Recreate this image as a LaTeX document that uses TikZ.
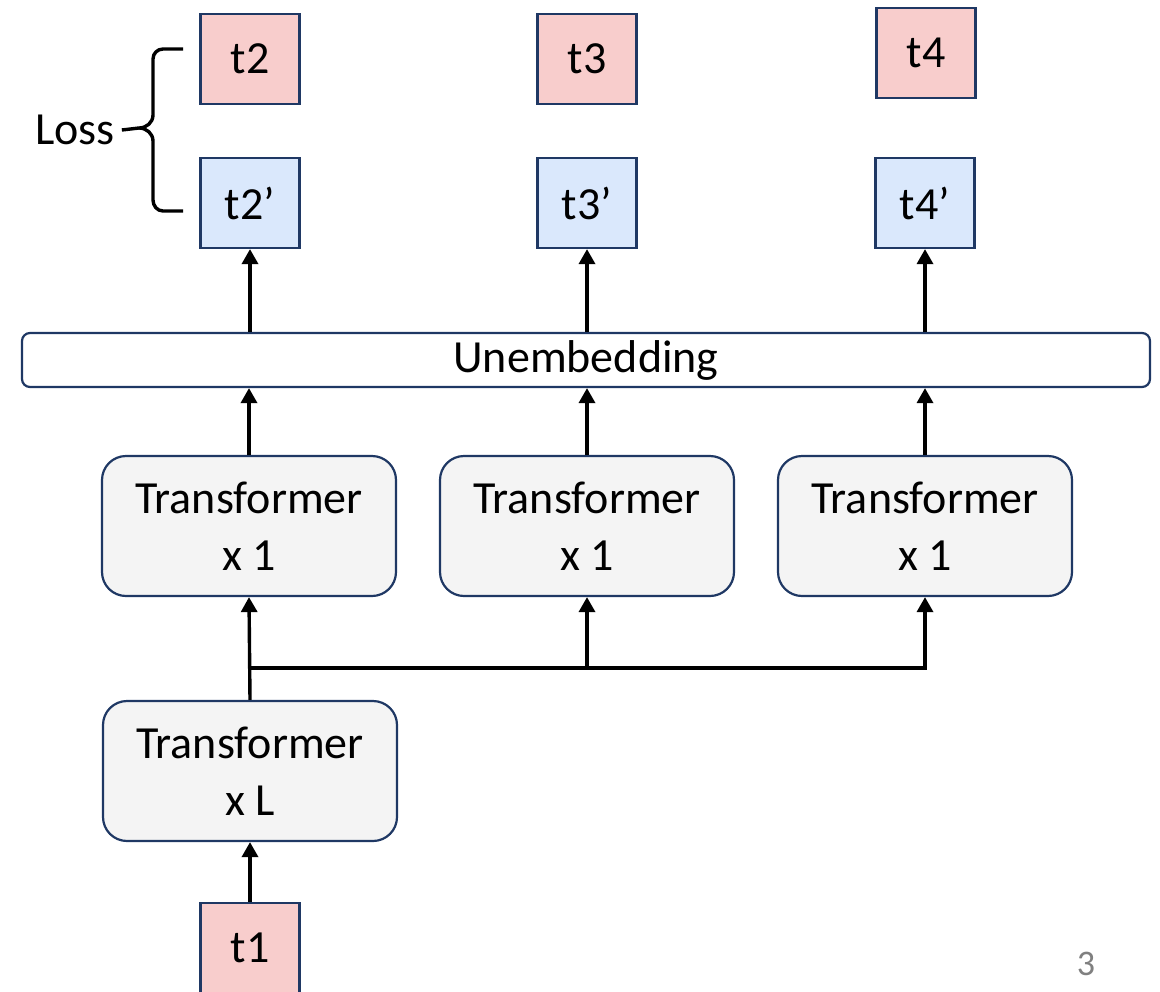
\documentclass[tikz,border=0pt]{standalone}
\usepackage{fontspec}
\setmainfont{Carlito}
\usetikzlibrary{arrows.meta, positioning, calc}
\definecolor{targetcolor}{RGB}{248,205,204}
\definecolor{predcolor}{RGB}{218,232,252}
\definecolor{blockcolor}{RGB}{244,244,244}
\definecolor{edgecolor}{RGB}{31,56,100}

\begin{document}
\begin{tikzpicture}[
    x=0.5pt, y=-0.5pt,
    token/.style={draw=edgecolor, line width=1.1pt, fill=targetcolor, minimum width=49.5pt, minimum height=45pt, inner sep=0pt, font=\fontsize{23}{28}\selectfont},
    pred/.style={token, fill=predcolor},
    block/.style={draw=edgecolor, line width=1.1pt, fill=blockcolor, rounded corners=12pt, minimum width=147pt, minimum height=70pt, font=\fontsize{23}{28.5}\selectfont, align=center},
    unembed/.style={draw=edgecolor, line width=1.1pt, rounded corners=4pt, minimum width=564pt, minimum height=27pt, inner sep=0pt, font=\fontsize{23}{28}\selectfont},
    arrow/.style={-{Triangle[length=7.5pt, width=8pt]}, line width=1.7pt}
]
    \useasboundingbox (0,0) rectangle (1160,991);

    % Target tokens
    \node[token] (t2) at (250,59) {t2};
    \node[token] (t3) at (587,59) {t3};
    \node[token] (t4) at (926,53) {t4};

    % Predicted tokens
    \node[pred] (p2) at (250,203) {t2’};
    \node[pred] (p3) at (587,203) {t3’};
    \node[pred] (p4) at (925,203) {t4’};

    % Unembedding layer
    \node[unembed] (unemb) at (586,360) {Unembedding};

    % Transformer heads
    \node[block] (tr1) at (249,526) {Transformer\\x 1};
    \node[block] (tr2) at (587,526) {Transformer\\x 1};
    \node[block] (tr3) at (925,526) {Transformer\\x 1};

    % Shared trunk and input
    \node[block] (trL) at (250,771) {Transformer\\x L};
    \node[token] (t1) at (250,948) {t1};

    % Loss brace
    \node[font=\fontsize{23}{28}\selectfont] (loss) at (75,130) {Loss};
    \draw[line width=1.7pt] (183,49) -- (163,49) to[out=180,in=90] (153,59) -- (153,115)
        to[out=-90,in=0] (139,128) -- (loss.east) -- (139,128)
        to[out=0,in=90] (153,141) -- (153,200) to[out=-90,in=180] (163,211) -- (183,211);

    % Trunk to heads
    \coordinate (split) at (trL.north |- 0,668);
    \draw[arrow] (t1) -- (trL);
    \draw[arrow] (trL.north) -- (tr1.south);
    \draw[arrow] (split) -| (tr3.south);
    \draw[arrow] (tr2.south |- split) -- (tr2.south);

    % Heads to unembedding
    \draw[arrow] (tr1.north) -- (tr1.north |- unemb.south);
    \draw[arrow] (tr2.north) -- (tr2.north |- unemb.south);
    \draw[arrow] (tr3.north) -- (tr3.north |- unemb.south);

    % Unembedding to predictions
    \draw[arrow] (p2 |- unemb.north) -- (p2);
    \draw[arrow] (p3 |- unemb.north) -- (p3);
    \draw[arrow] (p4 |- unemb.north) -- (p4);

    % Page number
    \node[text=gray, font=\fontsize{18}{20}\selectfont] (page) at (1086,964) {3};
\end{tikzpicture}
\end{document}
